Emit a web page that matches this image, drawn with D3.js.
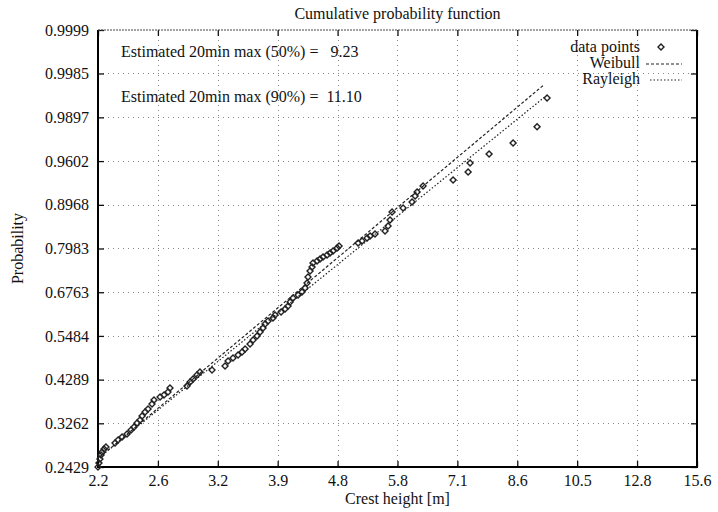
<!DOCTYPE html>
<html lang="en">

<head>
	<meta charset="utf-8">
	<title>Cumulative probability function</title>
	<script type="text/javascript" src="https://cdn.jsdelivr.net/npm/d3@7/dist/d3.min.js"></script>
	<style type="text/css">
		body {
			margin: 0;
			background: #ffffff;
		}
		text {
			font-family: "Liberation Serif", "DejaVu Serif", serif;
			fill: #111;
		}
	</style>
</head>

<body>
	<script type="text/javascript">

		// crest heights [m] and plotting positions
		var crestHeight = [2.200, 2.207, 2.214, 2.222, 2.229, 2.244, 2.258, 2.326, 2.349, 2.380,
			2.419, 2.451, 2.475, 2.500, 2.524, 2.541, 2.566, 2.591, 2.625, 2.642,
			2.695, 2.730, 2.766, 2.784, 2.943, 2.973, 3.002, 3.041, 3.071, 3.194,
			3.333, 3.366, 3.421, 3.478, 3.524, 3.559, 3.617, 3.653, 3.701, 3.737,
			3.774, 3.799, 3.836, 3.899, 3.925, 4.003, 4.056, 4.096, 4.123, 4.163,
			4.232, 4.287, 4.330, 4.358, 4.372, 4.401, 4.430, 4.444, 4.503, 4.547,
			4.592, 4.653, 4.699, 4.745, 4.808, 4.839, 5.150, 5.217, 5.303, 5.356,
			5.443, 5.624, 5.680, 5.717, 5.755, 5.966, 6.144, 6.205, 6.246, 6.369,
			7.026, 7.380, 7.428, 7.904, 8.549, 9.247, 9.554];

		var probability = [0.2429, 0.2497, 0.2567, 0.2638, 0.2692, 0.2748, 0.2786, 0.2862, 0.2920, 0.2980,
			0.3040, 0.3122, 0.3184, 0.3269, 0.3333, 0.3420, 0.3509, 0.3577, 0.3692, 0.3786,
			0.3858, 0.3906, 0.3979, 0.4077, 0.4127, 0.4228, 0.4305, 0.4408, 0.4487, 0.4540,
			0.4646, 0.4781, 0.4863, 0.4946, 0.5029, 0.5112, 0.5253, 0.5367, 0.5482, 0.5597,
			0.5713, 0.5830, 0.5918, 0.6006, 0.6094, 0.6182, 0.6271, 0.6359, 0.6476, 0.6594,
			0.6682, 0.6770, 0.6887, 0.7032, 0.7204, 0.7374, 0.7486, 0.7596, 0.7651, 0.7705,
			0.7759, 0.7813, 0.7866, 0.7918, 0.7997, 0.8048, 0.8124, 0.8174, 0.8248, 0.8297,
			0.8345, 0.8415, 0.8530, 0.8662, 0.8829, 0.8908, 0.9021, 0.9127, 0.9193, 0.9287,
			0.9374, 0.9479, 0.9582, 0.9671, 0.9759, 0.9856, 0.9952];

		// fitted lines (straight on this paper), end points
		var weibullX = [2.214, 9.45];
		var weibullP = [0.2603, 0.99734];
		var rayleighX = [2.214, 9.52];
		var rayleighP = [0.2603, 0.99562];

		// axis ticks
		var xTickValues = [2.2, 2.676, 3.255, 3.959, 4.816, 5.858, 7.125, 8.667, 10.542, 12.823, 15.6];
		var xTickLabels = ["2.2", "2.6", "3.2", "3.9", "4.8", "5.8", "7.1", "8.6", "10.5", "12.8", "15.6"];
		var yTickValues = [0.2429, 0.3262, 0.4289, 0.5484, 0.6763, 0.7983, 0.8968, 0.9602, 0.9897, 0.9985, 0.9999];
		var yTickLabels = ["0.2429", "0.3262", "0.4289", "0.5484", "0.6763", "0.7983", "0.8968", "0.9602", "0.9897", "0.9985", "0.9999"];

		var estimates = ["Estimated 20min max (50%) =   9.23", "Estimated 20min max (90%) =  11.10"];

		var w = 718;
		var h = 512;
		var padL = 98, padR = 697, padT = 30, padB = 467;
		var fs = "16px";

		var svg = d3.select("body")
			.append("svg")
			.attr("width", w)
			.attr("height", h);

		// weibull paper: y is ln(-ln(1-p))
		function wz(p) {
			return Math.log(-Math.log(1 - p));
		}

		var x = d3.scaleLog()
			.domain([2.2, 15.6])
			.range([padL, padR]);

		var yz = d3.scaleLinear()
			.domain([wz(0.2429), wz(0.9999)])
			.range([padB, padT]);

		function y(p) {
			return yz(wz(p));
		}

		// grid
		var grid = svg.append("g")
			.attr("stroke", "#888")
			.attr("stroke-width", 1)
			.attr("stroke-dasharray", "1,4");

		grid.selectAll("line.gx")
			.data(xTickValues.slice(1, -1))
			.enter()
			.append("line")
			.attr("class", "gx")
			.attr("x1", function(d){ return Math.round(x(d)) + 0.5; })
			.attr("x2", function(d){ return Math.round(x(d)) + 0.5; })
			.attr("y1", padT)
			.attr("y2", padB);

		grid.selectAll("line.gy")
			.data(yTickValues.slice(1, -1))
			.enter()
			.append("line")
			.attr("class", "gy")
			.attr("x1", padL)
			.attr("x2", padR)
			.attr("y1", function(d){ return Math.round(y(d)) + 0.5; })
			.attr("y2", function(d){ return Math.round(y(d)) + 0.5; });

		// axes (ticks point inwards, labels set by hand)
		var xAxis = d3.axisBottom(x)
			.tickValues(xTickValues)
			.tickSizeInner(-6)
			.tickSizeOuter(0)
			.tickPadding(8)
			.tickFormat(function(d, i){ return xTickLabels[i]; });

		var yAxis = d3.axisLeft(yz)
			.tickValues(yTickValues.map(wz))
			.tickSizeInner(-6)
			.tickSizeOuter(0)
			.tickPadding(9)
			.tickFormat(function(d, i){ return yTickLabels[i]; });

		svg.append("g")
			.attr("transform", "translate(0," + padB + ")")
			.call(xAxis);

		svg.append("g")
			.attr("transform", "translate(" + padL + ",0)")
			.call(yAxis);

		svg.append("g")
			.attr("transform", "translate(0," + padT + ")")
			.call(d3.axisTop(x).tickValues(xTickValues).tickSizeInner(-6).tickSizeOuter(0).tickFormat(""));

		svg.append("g")
			.attr("transform", "translate(" + padR + ",0)")
			.call(d3.axisRight(yz).tickValues(yTickValues.map(wz)).tickSizeInner(-6).tickSizeOuter(0).tickFormat(""));

		svg.selectAll(".domain").remove();
		svg.selectAll(".tick line").attr("stroke", "#111").attr("stroke-width", 1.3);
		svg.selectAll(".tick text")
			.attr("font-size", fs)
			.attr("font-family", "Liberation Serif")
			.attr("fill", "#111");

		// frame
		svg.append("path")
			.attr("d", "M" + padL + "," + padT + "V" + padB + "H" + padR + "V" + padT)
			.attr("fill", "none")
			.attr("stroke", "#000")
			.attr("stroke-width", 2);

		svg.append("line")
			.attr("x1", padL)
			.attr("x2", padR)
			.attr("y1", padT)
			.attr("y2", padT)
			.attr("stroke", "#444")
			.attr("stroke-width", 1)
			.attr("stroke-dasharray", "2,1");

		// fitted lines
		var line = d3.line()
			.x(function(d){ return x(d[0]); })
			.y(function(d){ return y(d[1]); });

		svg.append("path")
			.datum(d3.zip(weibullX, weibullP))
			.attr("d", line)
			.attr("fill", "none")
			.attr("stroke", "#222")
			.attr("stroke-width", 1.2)
			.attr("stroke-dasharray", "3,2");

		svg.append("path")
			.datum(d3.zip(rayleighX, rayleighP))
			.attr("d", line)
			.attr("fill", "none")
			.attr("stroke", "#222")
			.attr("stroke-width", 1.2)
			.attr("stroke-dasharray", "1.5,2");

		// data points: small open diamonds
		var sym = d3.symbol().type(d3.symbolSquare).size(18);

		svg.selectAll("path.pt")
			.data(d3.zip(crestHeight, probability))
			.enter()
			.append("path")
			.attr("class", "pt")
			.attr("d", sym)
			.attr("transform", function(d){
				return "translate(" + x(d[0]) + "," + y(d[1]) + ") rotate(45)";
			})
			.attr("fill", "none")
			.attr("stroke", "#222")
			.attr("stroke-width", 1.4);

		// title and labels
		svg.append("text")
			.attr("x", (padL + padR) / 2)
			.attr("y", 19)
			.attr("text-anchor", "middle")
			.attr("font-size", fs)
			.text("Cumulative probability function");

		svg.append("text")
			.attr("x", (padL + padR) / 2)
			.attr("y", 504)
			.attr("text-anchor", "middle")
			.attr("font-size", fs)
			.text("Crest height [m]");

		svg.append("text")
			.attr("transform", "translate(23," + ((padT + padB) / 2) + ") rotate(-90)")
			.attr("text-anchor", "middle")
			.attr("font-size", fs)
			.text("Probability");

		svg.selectAll("text.est")
			.data(estimates)
			.enter()
			.append("text")
			.attr("class", "est")
			.attr("x", 121)
			.attr("y", function(d, i){ return 57 + i * 45; })
			.attr("font-size", fs)
			.style("white-space", "pre")
			.text(function(d){ return d; });

		// legend
		var legend = svg.append("g");
		var legendNames = ["data points", "Weibull", "Rayleigh"];

		legend.selectAll("text")
			.data(legendNames)
			.enter()
			.append("text")
			.attr("x", 640)
			.attr("y", function(d, i){ return 52 + i * 16; })
			.attr("text-anchor", "end")
			.attr("font-size", fs)
			.text(function(d){ return d; });

		legend.append("path")
			.attr("d", sym)
			.attr("transform", "translate(661,47) rotate(45)")
			.attr("fill", "none")
			.attr("stroke", "#222")
			.attr("stroke-width", 1.4);

		legend.append("line")
			.attr("x1", 646).attr("x2", 682)
			.attr("y1", 64).attr("y2", 64)
			.attr("stroke", "#222")
			.attr("stroke-width", 1.2)
			.attr("stroke-dasharray", "3,2");

		legend.append("line")
			.attr("x1", 650).attr("x2", 682)
			.attr("y1", 80).attr("y2", 80)
			.attr("stroke", "#222")
			.attr("stroke-width", 1.2)
			.attr("stroke-dasharray", "1.5,2");

	</script>
</body>

</html>
